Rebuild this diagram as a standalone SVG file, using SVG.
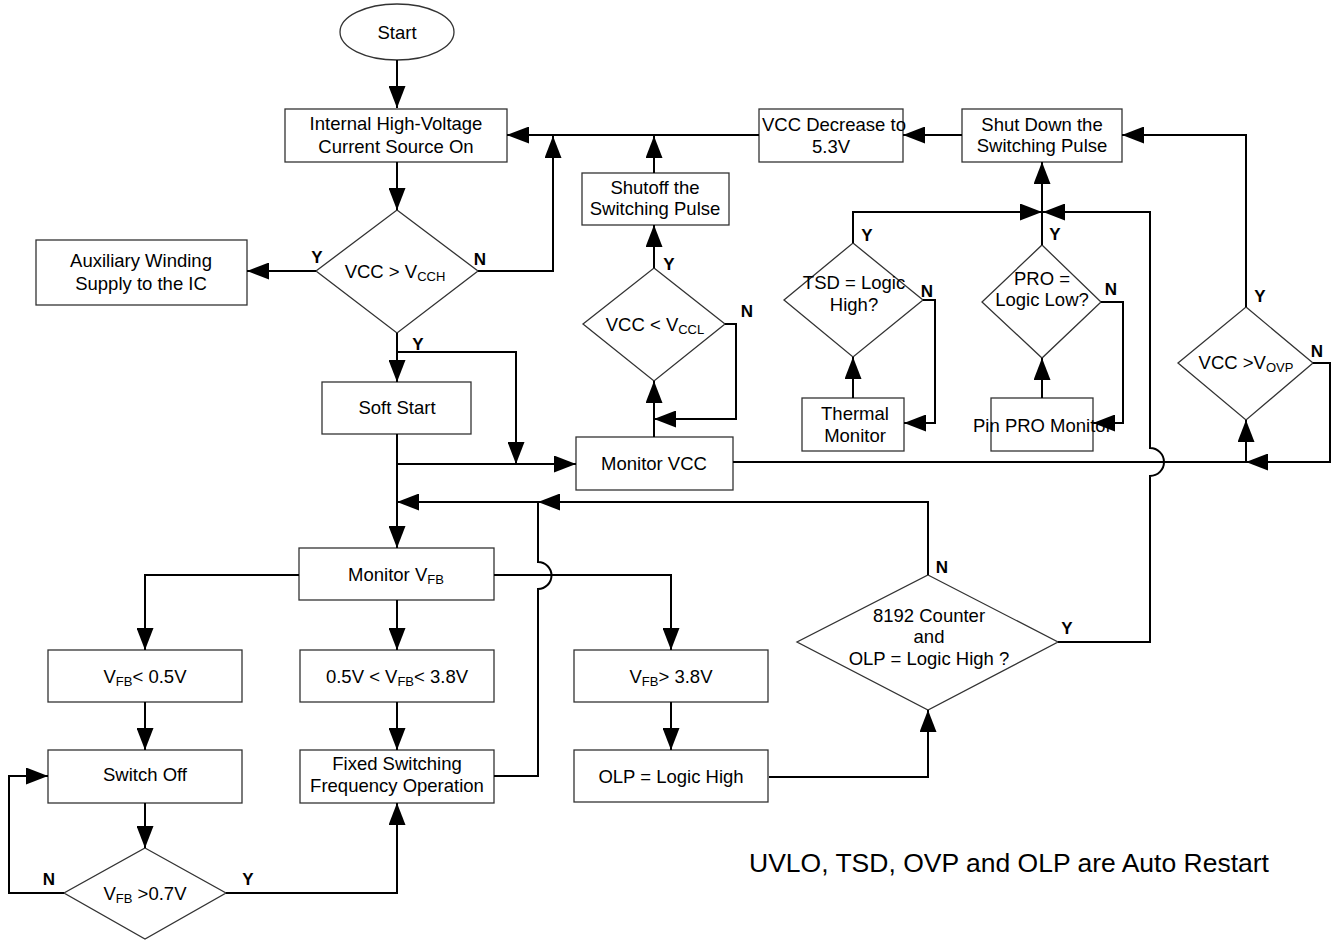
<svg xmlns="http://www.w3.org/2000/svg" width="1335" height="940" viewBox="0 0 1335 940">
<style>
.bx{fill:#fff;stroke:#333;stroke-width:1.3}
.c{fill:none;stroke:#000;stroke-width:2}
.t{font-family:"Liberation Sans",Arial,sans-serif;font-size:18.5px;text-anchor:middle;fill:#000}
.lb{font-family:"Liberation Sans",Arial,sans-serif;font-size:17px;font-weight:bold;text-anchor:middle;fill:#000}
.s{font-size:13px}
.big{font-family:"Liberation Sans",Arial,sans-serif;font-size:26.5px;fill:#000}
</style>
<defs>
<marker id="a" markerUnits="userSpaceOnUse" markerWidth="22" markerHeight="17" refX="22" refY="8.5" orient="auto">
<path d="M0,0 L22,8.5 L0,17 z" fill="#000"/>
</marker>
</defs>
<rect width="1335" height="940" fill="#fff"/>

<g id="start">
<ellipse class="bx" cx="397" cy="32" rx="57" ry="28"/>
<text class="t" x="397" y="39">Start</text>
</g>
<g id="ihv">
<rect class="bx" x="285" y="109" width="222" height="53"/>
<text class="t" x="396" y="130">Internal High-Voltage</text>
<text class="t" x="396" y="153">Current Source On</text>
</g>
<g id="d-vcch">
<polygon class="bx" points="397,210 478,271 397,333 316,271"/>
<text class="t" x="395" y="278">VCC &gt; V<tspan class="s" dy="3">CCH</tspan></text>
<text class="lb" x="317" y="263">Y</text>
<text class="lb" x="480" y="265">N</text>
<text class="lb" x="418" y="350">Y</text>
</g>
<g id="aux">
<rect class="bx" x="36" y="240" width="211" height="65"/>
<text class="t" x="141" y="267">Auxiliary Winding</text>
<text class="t" x="141" y="290">Supply to the IC</text>
</g>
<g id="vccdec">
<rect class="bx" x="759" y="109" width="144" height="53"/>
<text class="t" x="834" y="131">VCC Decrease to</text>
<text class="t" x="831" y="153">5.3V</text>
</g>
<g id="shutdown">
<rect class="bx" x="962" y="109" width="160" height="53"/>
<text class="t" x="1042" y="131">Shut Down the</text>
<text class="t" x="1042" y="152">Switching Pulse</text>
</g>
<g id="shutoff">
<rect class="bx" x="582" y="173" width="147" height="52"/>
<text class="t" x="655" y="194">Shutoff the</text>
<text class="t" x="655" y="215">Switching Pulse</text>
</g>
<g id="d-vccl">
<polygon class="bx" points="654,268 725,324 654,381 583,324"/>
<text class="t" x="655" y="331">VCC &lt; V<tspan class="s" dy="3">CCL</tspan></text>
<text class="lb" x="669" y="270">Y</text>
<text class="lb" x="747" y="317">N</text>
</g>
<g id="monvcc">
<rect class="bx" x="576" y="437" width="157" height="53"/>
<text class="t" x="654" y="470">Monitor VCC</text>
</g>
<g id="d-tsd">
<polygon class="bx" points="853,243 923,300 853,357 784,300"/>
<text class="t" x="854" y="289">TSD = Logic</text>
<text class="t" x="854" y="311">High?</text>
<text class="lb" x="867" y="241">Y</text>
<text class="lb" x="927" y="297">N</text>
</g>
<g id="thermal">
<rect class="bx" x="802" y="398" width="102" height="53"/>
<text class="t" x="855" y="420">Thermal</text>
<text class="t" x="855" y="442">Monitor</text>
</g>
<g id="d-pro">
<polygon class="bx" points="1042,245 1101,302 1042,358 982,302"/>
<text class="t" x="1042" y="285">PRO =</text>
<text class="t" x="1042" y="306">Logic Low?</text>
<text class="lb" x="1055" y="240">Y</text>
<text class="lb" x="1111" y="295">N</text>
</g>
<g id="pinpro">
<rect class="bx" x="991" y="398" width="102" height="53"/>
<text class="t" x="973" y="432" style="text-anchor:start">Pin PRO  Monitor</text>
</g>
<g id="d-ovp">
<polygon class="bx" points="1246,307 1313,363 1246,420 1178,363"/>
<text class="t" x="1246" y="369">VCC &gt;V<tspan class="s" dy="3">OVP</tspan></text>
<text class="lb" x="1260" y="302">Y</text>
<text class="lb" x="1317" y="357">N</text>
</g>
<g id="softstart">
<rect class="bx" x="322" y="382" width="149" height="52"/>
<text class="t" x="397" y="414">Soft Start</text>
</g>
<g id="monvfb">
<rect class="bx" x="299" y="548" width="195" height="52"/>
<text class="t" x="396" y="581">Monitor V<tspan class="s" dy="3">FB</tspan></text>
</g>
<g id="vfb-low">
<rect class="bx" x="48" y="650" width="194" height="52"/>
<text class="t" x="145" y="683">V<tspan class="s" dy="3">FB</tspan><tspan dy="-3">&lt; 0.5V</tspan></text>
</g>
<g id="vfb-mid">
<rect class="bx" x="300" y="650" width="194" height="52"/>
<text class="t" x="397" y="683">0.5V &lt; V<tspan class="s" dy="3">FB</tspan><tspan dy="-3">&lt; 3.8V</tspan></text>
</g>
<g id="vfb-high">
<rect class="bx" x="574" y="650" width="194" height="52"/>
<text class="t" x="671" y="683">V<tspan class="s" dy="3">FB</tspan><tspan dy="-3">&gt; 3.8V</tspan></text>
</g>
<g id="switchoff">
<rect class="bx" x="48" y="750" width="194" height="53"/>
<text class="t" x="145" y="781">Switch Off</text>
</g>
<g id="fixed">
<rect class="bx" x="300" y="750" width="194" height="53"/>
<text class="t" x="397" y="770">Fixed Switching</text>
<text class="t" x="397" y="792">Frequency Operation</text>
</g>
<g id="olp">
<rect class="bx" x="574" y="750" width="194" height="52"/>
<text class="t" x="671" y="783">OLP = Logic High</text>
</g>
<g id="d-counter">
<polygon class="bx" points="928,575 1058,642 928,710 797,642"/>
<text class="t" x="929" y="622">8192 Counter</text>
<text class="t" x="929" y="643">and</text>
<text class="t" x="929" y="665">OLP = Logic High ?</text>
<text class="lb" x="942" y="573">N</text>
<text class="lb" x="1067" y="634">Y</text>
</g>
<g id="d-07">
<polygon class="bx" points="145,848 226,893 145,939 64,893"/>
<text class="t" x="145" y="900">V<tspan class="s" dy="3">FB</tspan><tspan dy="-3"> &gt;0.7V</tspan></text>
<text class="lb" x="49" y="885">N</text>
<text class="lb" x="248" y="885">Y</text>
</g>
<g id="note">
<text class="big" x="749" y="872">UVLO, TSD, OVP and OLP are Auto Restart</text>
</g>

<g id="connectors">
<path class="c" d="M397,60 V108" marker-end="url(#a)"/>
<path class="c" d="M397,162 V210" marker-end="url(#a)"/>
<path class="c" d="M316,271 H247" marker-end="url(#a)"/>
<path class="c" d="M478,271 H553 V136" marker-end="url(#a)"/>
<path class="c" d="M759,135 H507" marker-end="url(#a)"/>
<path class="c" d="M962,135 H903" marker-end="url(#a)"/>
<path class="c" d="M1246,307 V135 H1122" marker-end="url(#a)"/>
<path class="c" d="M654,173 V136" marker-end="url(#a)"/>
<path class="c" d="M654,268 V225" marker-end="url(#a)"/>
<path class="c" d="M654,437 V381" marker-end="url(#a)"/>
<path class="c" d="M725,324 H736 V419 H654" marker-end="url(#a)"/>
<path class="c" d="M853,243 V212 H1042" marker-end="url(#a)"/>
<path class="c" d="M1042,245 V162" marker-end="url(#a)"/>
<path class="c" d="M853,398 V357" marker-end="url(#a)"/>
<path class="c" d="M923,300 H935 V423 H904" marker-end="url(#a)"/>
<path class="c" d="M1042,398 V358" marker-end="url(#a)"/>
<path class="c" d="M1101,302 H1123 V423 H1093" marker-end="url(#a)"/>
<path class="c" d="M733,462 H1246 V420" marker-end="url(#a)"/>
<path class="c" d="M1313,363 H1330 V462 H1246" marker-end="url(#a)"/>
<path class="c" d="M1058,642 H1150 V476 A14,14 0 0 0 1150,448 V212 H1043" marker-end="url(#a)"/>
<path class="c" d="M397,333 V382" marker-end="url(#a)"/>
<path class="c" d="M397,352 H516 V464" marker-end="url(#a)"/>
<path class="c" d="M397,434 V548" marker-end="url(#a)"/>
<path class="c" d="M397,464 H576" marker-end="url(#a)"/>
<path class="c" d="M928,575 V502 H538" marker-end="url(#a)"/>
<path class="c" d="M494,776 H538 V589 A13,13 0 0 0 538,562 V502 H397" marker-end="url(#a)"/>
<path class="c" d="M299,575 H145 V650" marker-end="url(#a)"/>
<path class="c" d="M397,600 V650" marker-end="url(#a)"/>
<path class="c" d="M494,575 H671 V650" marker-end="url(#a)"/>
<path class="c" d="M145,702 V750" marker-end="url(#a)"/>
<path class="c" d="M397,702 V750" marker-end="url(#a)"/>
<path class="c" d="M671,702 V750" marker-end="url(#a)"/>
<path class="c" d="M769,777 H928 V710" marker-end="url(#a)"/>
<path class="c" d="M145,803 V848" marker-end="url(#a)"/>
<path class="c" d="M64,893 H9 V776 H48" marker-end="url(#a)"/>
<path class="c" d="M226,893 H397 V803" marker-end="url(#a)"/>
</g>
</svg>
